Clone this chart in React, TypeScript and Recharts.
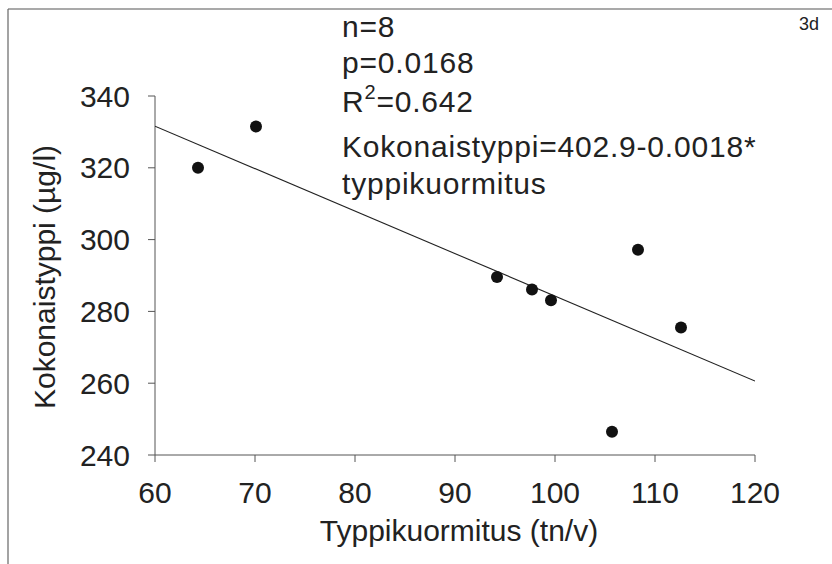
import React from 'react';
import { ComposedChart, Scatter, XAxis, YAxis } from 'recharts';

// observed points (typpikuormitus tn/v, kokonaistyppi µg/l)
const loadTn = [64.3, 70.1, 94.2, 97.7, 99.6, 105.7, 108.3, 112.6];
const totalN = [320.0, 331.5, 289.6, 286.1, 283.1, 246.5, 297.2, 275.5];

// fitted regression line, read at the axis ends
const fitX = [60, 120];
const fitY = [331.6, 260.6];

const xTicks = [60, 70, 80, 90, 100, 110, 120];
const yTicks = [240, 260, 280, 300, 320, 340];

const statLines = ['n=8', 'p=0.0168'];
const eqLines = ['Kokonaistyppi=402.9-0.0018*', 'typpikuormitus'];

const points = loadTn.map((x, i) => ({ x, y: totalN[i] }));
const fitLine = fitX.map((x, i) => ({ x, y: fitY[i] }));

const FONT = '"Liberation Sans", Arial, sans-serif';
const tickStyle = { fontSize: 30, fill: '#222', fontFamily: FONT };

const Dot = (props: any) => <circle cx={props.cx} cy={props.cy} r={6} fill="#111" />;

export default function App() {
  return (
    <div style={{ position: 'absolute', left: 0, top: 0, width: 832, height: 564, background: '#fff' }}>
      <ComposedChart width={832} height={564} margin={{ top: 96, right: 77, bottom: 79, left: 95 }}>
        <XAxis
          type="number"
          dataKey="x"
          domain={[60, 120]}
          ticks={xTicks}
          height={30}
          stroke="#555"
          tickSize={7}
          tickMargin={20}
          tick={tickStyle}
          allowDataOverflow
        />
        <YAxis
          type="number"
          dataKey="y"
          domain={[240, 340]}
          ticks={yTicks}
          width={60}
          stroke="#555"
          tickSize={7}
          tickMargin={18}
          tick={tickStyle}
          allowDataOverflow
        />
        <Scatter
          data={fitLine}
          line={{ stroke: '#222', strokeWidth: 1.1 }}
          shape={() => <g />}
          isAnimationActive={false}
        />
        <Scatter data={points} shape={Dot} isAnimationActive={false} />
      </ComposedChart>
      <svg
        width={832}
        height={564}
        style={{ position: 'absolute', left: 0, top: 0, pointerEvents: 'none' }}
        fontFamily={FONT}
      >
        <line x1={8} y1={9} x2={832} y2={9} stroke="#555" strokeWidth={1.2} />
        <line x1={8} y1={9} x2={8} y2={564} stroke="#666" strokeWidth={1.2} />
        <text x={799} y={30} fontSize={18} fill="#222">3d</text>
        {statLines.map((s, i) => (
          <text key={s} x={342} y={37 + i * 36} fontSize={30} fill="#222" letterSpacing={0.8}>{s}</text>
        ))}
        <text x={342} y={112} fontSize={30} fill="#222" letterSpacing={0.8}>
          R<tspan fontSize={20} dy={-13}>2</tspan><tspan dy={13}>=0.642</tspan>
        </text>
        {eqLines.map((s, i) => (
          <text key={s} x={342} y={157 + i * 37} fontSize={30} fill="#222" letterSpacing={0.8}>{s}</text>
        ))}
        <text x={459} y={541} fontSize={30} fill="#222" textAnchor="middle">Typpikuormitus (tn/v)</text>
        <text
          x={0}
          y={0}
          fontSize={30}
          fill="#222"
          textAnchor="middle"
          transform="translate(55,277) rotate(-90)"
        >
          Kokonaistyppi (µg/l)
        </text>
      </svg>
    </div>
  );
}
